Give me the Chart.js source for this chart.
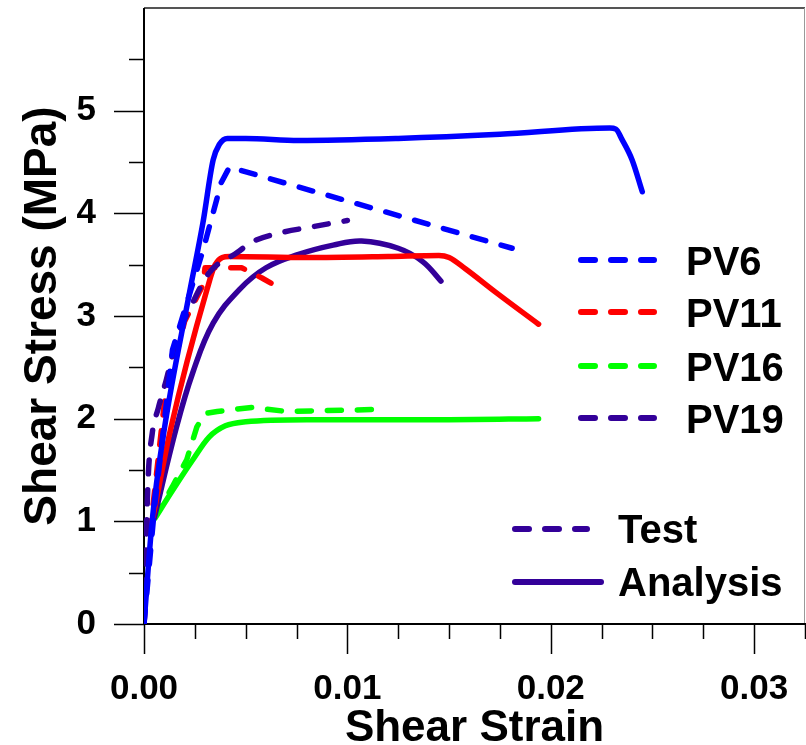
<!DOCTYPE html>
<html>
<head>
<meta charset="utf-8">
<title>Shear stress vs shear strain</title>
<script src="https://cdn.jsdelivr.net/npm/chart.js@4.4.1/dist/chart.umd.min.js"></script>
<style>
  html, body { margin: 0; padding: 0; background: #ffffff; }
  canvas { display: block; }
</style>
</head>
<body>
<canvas id="shear_chart" width="806" height="745"></canvas>
<script>
// values (strain, MPa)
var pv6AnalysisX = [0, 0.0004, 0.0010, 0.0022, 0.0029, 0.0034, 0.0037, 0.0041, 0.0050, 0.0076, 0.0125, 0.0175, 0.0229, 0.0232, 0.0235, 0.0240, 0.0245]
var pv6AnalysisY = [0, 1.00, 1.90, 3.19, 3.91, 4.52, 4.67, 4.73, 4.73, 4.71, 4.73, 4.77, 4.83, 4.82, 4.72, 4.52, 4.21]
var pv6TestX = [0, 0.0005, 0.0014, 0.0029, 0.0038, 0.0042, 0.0181]
var pv6TestY = [0, 1.10, 2.67, 3.64, 4.30, 4.45, 3.66]

var pv11AnalysisX = [0.00044, 0.0013, 0.0031, 0.0035, 0.0042, 0.0080, 0.0120, 0.0145, 0.0150, 0.0158, 0.0173, 0.0194]
var pv11AnalysisY = [1.04, 1.89, 3.26, 3.50, 3.58, 3.57, 3.58, 3.59, 3.57, 3.46, 3.23, 2.92]
var pv11TestX = [0, 0.0003, 0.0010, 0.0020, 0.0029, 0.0030, 0.0048, 0.0058, 0.0066]
var pv11TestY = [0, 0.90, 2.15, 2.95, 3.30, 3.47, 3.47, 3.37, 3.28]

var pv16AnalysisX = [0.00054, 0.0014, 0.0024, 0.0032, 0.0040, 0.0050, 0.0080, 0.0150, 0.0194]
var pv16AnalysisY = [1.03, 1.30, 1.60, 1.82, 1.93, 1.97, 1.99, 1.99, 2.00]
var pv16TestX = [0.0005, 0.0014, 0.0021, 0.0026, 0.0030, 0.0036, 0.0053, 0.0070, 0.0115]
var pv16TestY = [1.03, 1.34, 1.60, 1.92, 2.05, 2.07, 2.11, 2.07, 2.09]

var pv19AnalysisX = [0.0005, 0.0016, 0.0024, 0.0034, 0.0047, 0.0060, 0.0076, 0.0093, 0.0107, 0.0125, 0.0137, 0.0146]
var pv19AnalysisY = [1.03, 1.92, 2.45, 2.93, 3.26, 3.47, 3.60, 3.69, 3.73, 3.66, 3.53, 3.34]
var pv19TestX = [0, 0.0002, 0.0004, 0.0007, 0.0011, 0.0016, 0.0023, 0.0032, 0.0046, 0.0053, 0.0067, 0.0083, 0.0100]
var pv19TestY = [0, 1.40, 1.85, 2.10, 2.38, 2.77, 3.09, 3.42, 3.62, 3.72, 3.81, 3.87, 3.93]

var specimens = ["PV6", "PV11", "PV16", "PV19"]
var specimenColors = ["#0000ff", "#ff0000", "#00ff00", "#330099"]
var styleLabels = ["Test", "Analysis"]

var xMajorTicks = [0, 0.01, 0.02, 0.03]
var yMajorTicks = [0, 1, 2, 3, 4, 5]

var FONT = '"Liberation Sans", Arial, sans-serif'
var DASH = [14, 16]

function toPoints(xs, ys) {
  var pts = []
  for (var i = 0; i < xs.length; i++) pts.push({x: xs[i], y: ys[i]})
  return pts
}

// smooth: "mono" = monotone spline, a number = bezier tension, otherwise straight segments
function series(label, xs, ys, color, dashed, smooth) {
  return {
    label: label,
    data: toPoints(xs, ys),
    borderColor: color,
    backgroundColor: color,
    borderWidth: 5.5,
    borderDash: dashed ? DASH : [],
    borderCapStyle: "round",
    borderJoinStyle: "round",
    pointRadius: 0,
    pointHoverRadius: 0,
    tension: typeof smooth == "number" ? smooth : 0,
    cubicInterpolationMode: smooth === "mono" ? "monotone" : "default",
    fill: false
  }
}

// box, axis lines and tick marks (major 30px, minor 15px, pointing outward)
var axesPlugin = {
  id: "axesFrame",
  beforeDatasetsDraw: function (chart) {
    var ctx = chart.ctx
    var a = chart.chartArea
    var sx = chart.scales.x
    var sy = chart.scales.y
    var i, p
    ctx.save()
    ctx.lineCap = "butt"

    ctx.strokeStyle = "#555555"
    ctx.lineWidth = 2
    ctx.beginPath()
    ctx.moveTo(a.left, a.top)
    ctx.lineTo(a.right, a.top)
    ctx.stroke()
    ctx.strokeStyle = "#999999"
    ctx.lineWidth = 1
    ctx.beginPath()
    ctx.moveTo(a.right - 0.5, a.top)
    ctx.lineTo(a.right - 0.5, a.bottom)
    ctx.stroke()

    ctx.strokeStyle = "#000000"
    ctx.lineWidth = 2
    ctx.beginPath()
    ctx.moveTo(a.left, a.top)
    ctx.lineTo(a.left, a.bottom)
    ctx.lineTo(a.right + 1, a.bottom)
    ctx.stroke()

    ctx.lineWidth = 1.5
    ctx.beginPath()
    for (i = 0; i <= 11; i++) {
      p = Math.round(sy.getPixelForValue(i * 0.5)) + 0.5
      var len = i % 2 === 0 ? 30 : 15
      ctx.moveTo(a.left - len, p)
      ctx.lineTo(a.left, p)
    }
    for (i = 0; i <= 13; i++) {
      p = Math.round(sx.getPixelForValue(i * 0.0025)) + 0.5
      var lenX = i % 4 === 0 ? 30 : 15
      ctx.moveTo(p, a.bottom)
      ctx.lineTo(p, a.bottom + lenX)
    }
    ctx.stroke()
    ctx.restore()
  }
}

function legendLine(ctx, x1, x2, y, color, dashed) {
  ctx.strokeStyle = color
  ctx.lineWidth = 6
  ctx.lineCap = "round"
  ctx.setLineDash(dashed ? DASH : [])
  ctx.beginPath()
  ctx.moveTo(x1, y)
  ctx.lineTo(x2, y)
  ctx.stroke()
}

var legendPlugin = {
  id: "specimenLegend",
  afterDraw: function (chart) {
    var ctx = chart.ctx
    ctx.save()
    ctx.font = "bold 40px " + FONT
    ctx.fillStyle = "#000000"
    ctx.textAlign = "left"
    ctx.textBaseline = "alphabetic"
    var rowY = [260, 312, 366, 418]
    for (var i = 0; i < specimens.length; i++) {
      legendLine(ctx, 581, 654, rowY[i], specimenColors[i], true)
      ctx.fillText(specimens[i], 686, rowY[i] + 15)
    }
    legendLine(ctx, 515, 587, 529, specimenColors[3], true)
    ctx.fillText(styleLabels[0], 618, 529 + 14)
    legendLine(ctx, 515, 601, 582, specimenColors[3], false)
    ctx.fillText(styleLabels[1], 618, 582 + 14)
    ctx.restore()
  }
}

var ctx = document.getElementById("shear_chart").getContext("2d")
var shearChart = new Chart(ctx, {
  type: "line",
  data: {
    datasets: [
      series("PV6 Analysis", pv6AnalysisX, pv6AnalysisY, specimenColors[0], false, "mono"),
      series("PV6 Test", pv6TestX, pv6TestY, specimenColors[0], true, null),
      series("PV19 Test", pv19TestX, pv19TestY, specimenColors[3], true, "mono"),
      series("PV11 Analysis", pv11AnalysisX, pv11AnalysisY, specimenColors[1], false, "mono"),
      series("PV11 Test", pv11TestX, pv11TestY, specimenColors[1], true, null),
      series("PV19 Analysis", pv19AnalysisX, pv19AnalysisY, specimenColors[3], false, 0.4),
      series("PV16 Analysis", pv16AnalysisX, pv16AnalysisY, specimenColors[2], false, "mono"),
      series("PV16 Test", pv16TestX, pv16TestY, specimenColors[2], true, null)
    ]
  },
  options: {
    responsive: false,
    animation: false,
    events: [],
    layout: {padding: {left: 0, right: 1, top: 8, bottom: 0}},
    plugins: {
      legend: {display: false},
      tooltip: {enabled: false}
    },
    scales: {
      x: {
        type: "linear",
        min: 0,
        max: 0.0325,
        afterBuildTicks: function (scale) {
          scale.ticks = xMajorTicks.map(function (v) { return {value: v} })
        },
        afterFit: function (scale) {
          scale.height = 121
          scale.paddingLeft = 0
          scale.paddingRight = 0
        },
        grid: {display: false},
        border: {display: false},
        ticks: {
          maxRotation: 0,
          autoSkip: false,
          padding: 40,
          color: "#000000",
          font: {family: FONT, size: 35, weight: "bold", lineHeight: 1},
          callback: function (v) { return v.toFixed(2) }
        },
        title: {
          display: true,
          text: "Shear Strain",
          color: "#000000",
          padding: {top: 0, bottom: 0},
          font: {family: FONT, size: 44, weight: "bold", lineHeight: 0.75}
        }
      },
      y: {
        type: "linear",
        min: 0,
        max: 6,
        afterBuildTicks: function (scale) {
          scale.ticks = yMajorTicks.map(function (v) { return {value: v} })
        },
        afterFit: function (scale) {
          scale.width = 144
          scale.paddingTop = 0
          scale.paddingBottom = 0
        },
        grid: {display: false},
        border: {display: false},
        ticks: {
          autoSkip: false,
          padding: 40,
          color: "#000000",
          font: {family: FONT, size: 35, weight: "bold", lineHeight: 1},
          callback: function (v) { return String(v) }
        },
        title: {
          display: true,
          text: "Shear Stress (MPa)",
          color: "#000000",
          padding: {top: 20, bottom: 0},
          font: {family: FONT, size: 46, weight: "bold", lineHeight: 1}
        }
      }
    }
  },
  plugins: [axesPlugin, legendPlugin]
})
</script>
</body>
</html>
